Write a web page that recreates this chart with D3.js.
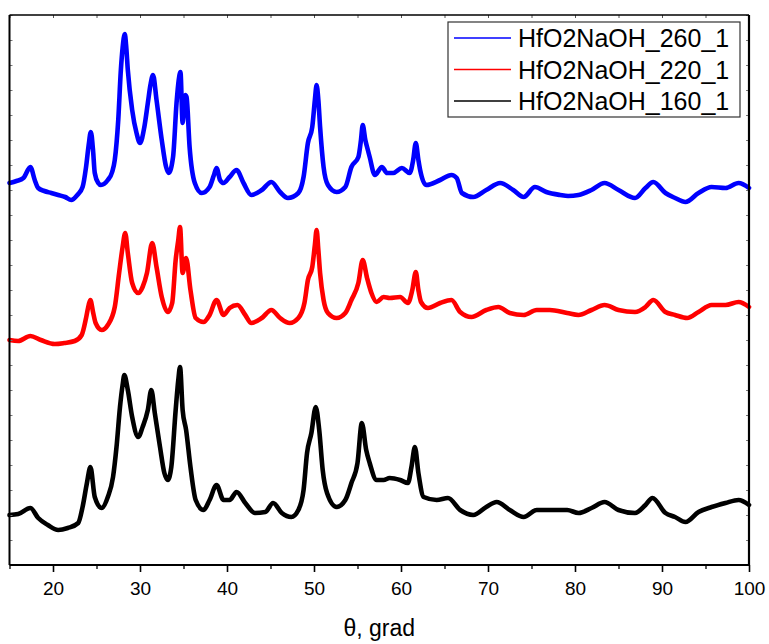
<!DOCTYPE html>
<html><head><meta charset="utf-8">
<script src="https://cdn.jsdelivr.net/npm/d3@7"></script>
<style>body{margin:0;background:#fff}svg{display:block}</style>
</head><body><svg id="c" width="769" height="644"></svg>
<script>
// ---- data (theta in degrees, intensity in arbitrary units) ----
const theta260 = [15.0,15.8,16.6,17.4,17.9,18.3,19.0,19.8,20.6,21.4,22.1,22.8,23.4,23.8,24.1,24.35,24.6,24.8,25.2,25.5,26.3,26.8,27.1,27.5,27.8,28.0,28.25,28.4,28.6,29.1,29.6,30.0,30.5,30.9,31.2,31.5,31.9,32.5,33.0,33.3,33.8,34.2,34.45,34.65,34.9,35.2,35.35,35.7,36.3,37.1,38.0,38.5,38.8,39.2,39.6,40.3,41.1,41.9,42.8,44.0,45.1,46.1,47.0,48.2,48.8,49.3,49.8,50.1,50.3,50.5,50.7,51.1,51.6,52.6,53.6,54.3,55.1,55.4,55.6,55.9,56.1,56.4,57.0,57.8,58.4,59.1,60.1,61.0,61.4,61.7,62.0,62.2,62.9,64.5,65.8,66.4,67.0,68.3,69.8,71.4,72.9,74.1,75.4,76.7,78.3,79.2,80.4,81.9,83.4,85.0,86.9,88.1,89.0,90.4,91.5,92.7,94.2,95.7,97.3,98.8,100.0];
const int260 = [382,384,387,398,385,377,374,372,370,368,365,370,378,398,420,433,415,392,382,380,385,393,405,445,495,517,531,520,495,455,432,422,438,462,480,490,465,425,398,392,408,462,485,493,442,470,468,418,382,372,378,390,397,385,382,388,395,382,370,375,383,373,367,372,388,422,438,465,480,465,438,398,380,373,378,398,408,425,440,425,418,408,390,398,392,392,397,392,405,422,405,395,380,385,390,387,372,368,375,382,375,368,378,373,370,369,370,375,382,375,367,377,383,372,367,363,372,378,377,382,377];

const theta220 = [15.0,16.0,17.4,18.6,20.2,21.3,22.5,23.3,23.8,24.1,24.3,24.6,24.9,25.6,26.3,27.1,27.6,28.0,28.3,28.6,29.1,29.8,30.3,30.8,31.4,31.9,32.5,33.2,33.7,34.1,34.4,34.6,34.9,35.3,35.8,36.4,37.3,38.0,38.8,39.6,40.3,41.2,42.1,42.8,44.0,45.1,46.1,47.2,48.2,48.9,49.3,49.8,50.1,50.3,50.5,50.7,51.1,51.6,52.6,53.6,54.3,55.1,55.6,56.1,56.6,57.2,58.0,58.7,59.9,60.8,61.3,61.7,62.0,62.3,63.1,64.5,65.8,66.8,68.1,69.8,71.2,72.5,74.1,75.6,77.1,79.1,80.4,81.9,83.4,85.0,86.9,88.1,89.0,90.4,91.5,92.9,94.2,95.7,97.3,98.8,100.0];
const int220 = [225,224,229,225,221,222,224,230,247,260,265,253,242,235,240,258,292,318,332,312,282,272,278,292,322,298,268,253,262,305,325,338,292,307,275,247,243,250,265,250,257,260,250,242,247,255,247,242,247,262,285,298,320,335,315,292,265,252,247,252,265,282,305,287,272,263,268,267,268,262,275,293,275,263,257,262,265,253,248,255,258,252,250,255,255,252,250,255,260,255,253,258,265,253,250,247,253,260,260,263,258];

const theta160 = [15.0,16.0,17.4,18.3,19.4,20.6,21.7,22.9,23.4,23.9,24.3,24.8,25.6,26.3,26.9,27.3,27.7,28.0,28.2,28.6,29.1,29.8,30.3,30.9,31.3,31.7,32.3,32.8,33.2,33.6,34.1,34.4,34.6,34.9,35.3,35.8,36.4,37.3,38.0,38.8,39.6,40.3,41.1,42.1,43.2,44.4,45.3,46.3,47.4,48.2,48.8,49.2,49.7,50.2,50.6,51.0,51.5,52.6,53.6,54.3,55.0,55.5,56.0,56.4,57.2,58.0,58.7,59.9,60.8,61.2,61.6,62.0,62.6,64.1,65.4,66.8,68.3,69.8,71.0,72.5,74.1,75.6,77.1,79.1,80.4,81.9,83.4,85.0,86.9,88.1,88.9,90.4,91.5,92.7,94.2,95.7,97.3,98.8,100.0];
const int160 = [50,51,57,47,40,35,37,42,58,82,98,68,57,68,88,118,158,180,190,175,148,128,138,155,175,152,118,92,85,98,155,185,198,155,135,98,65,55,65,80,65,65,73,62,52,53,62,52,48,55,75,112,132,158,135,95,72,58,65,82,102,142,115,102,85,85,87,85,82,98,118,92,68,65,67,55,50,58,63,55,48,55,55,55,52,57,63,55,52,60,67,52,48,43,53,58,62,65,60];

const seriesNames = ["HfO2NaOH_260_1","HfO2NaOH_220_1","HfO2NaOH_160_1"];
const seriesColors = ["#0000ff","#ff0000","#000000"];
const xMajorTicks = [20,30,40,50,60,70,80,90,100];
const xMinorTicks = [15,25,35,45,55,65,75,85,95];
const xLabel = "θ, grad";

// ---- layout ----
const svg = d3.select("#c");
const L = 9.5, R = 749, T = 15, B = 565;
const x = d3.scaleLinear().domain([15,100]).range([L,R]);
const y = d3.scaleLinear().domain([0,550]).range([B,T]);

const series = [
  {name: seriesNames[0], color: seriesColors[0], xs: theta260, ys: int260},
  {name: seriesNames[1], color: seriesColors[1], xs: theta220, ys: int220},
  {name: seriesNames[2], color: seriesColors[2], xs: theta160, ys: int160}
];

const line = d3.line().curve(d3.curveMonotoneX).x(d => x(d[0])).y(d => y(d[1]));
series.forEach(s => {
  const pts = s.xs.map((t,i) => [t, s.ys[i]]);
  svg.append("path").attr("d", line(pts)).attr("fill","none")
    .attr("stroke", s.color).attr("stroke-width", 4.6)
    .attr("stroke-linejoin","round").attr("stroke-linecap","round");
});

// ---- axes ----
const font = "'Liberation Sans', Arial, sans-serif";
const bottom = svg.append("g").attr("transform",`translate(0,${B})`)
  .call(d3.axisBottom(x).tickValues(xMajorTicks).tickSize(7).tickSizeOuter(0).tickPadding(10));
bottom.select(".domain").remove();
bottom.selectAll("line").attr("stroke","#000").attr("stroke-width",1.6);
bottom.selectAll("text").attr("font-family",font).attr("font-size",19).attr("fill","#000");
svg.append("g").attr("transform",`translate(0,${B})`)
  .call(d3.axisBottom(x).tickValues(xMinorTicks).tickSize(4).tickFormat(""))
  .call(g => { g.select(".domain").remove(); g.selectAll("line").attr("stroke","#000").attr("stroke-width",1.3); });

// top mirror ticks (inward)
svg.append("g").attr("transform",`translate(0,${T})`)
  .call(d3.axisBottom(x).tickValues(xMajorTicks.concat(xMinorTicks)).tickSize(3).tickFormat(""))
  .call(g => { g.select(".domain").remove(); g.selectAll("line").attr("stroke","#555").attr("stroke-width",1); });

// left/right inward ticks (no labels)
const yTicks = d3.range(0, 551, 25);
svg.append("g").attr("transform",`translate(${L},0)`)
  .call(d3.axisRight(y).tickValues(yTicks).tickSize(3).tickFormat(""))
  .call(g => { g.select(".domain").remove(); g.selectAll("line").attr("stroke","#777").attr("stroke-width",1); });
svg.append("g").attr("transform",`translate(${R},0)`)
  .call(d3.axisLeft(y).tickValues(yTicks).tickSize(3).tickFormat(""))
  .call(g => { g.select(".domain").remove(); g.selectAll("line").attr("stroke","#777").attr("stroke-width",1); });

// frame
svg.append("line").attr("x1",L).attr("x2",R).attr("y1",T).attr("y2",T).attr("stroke","#000").attr("stroke-width",1.5);
svg.append("line").attr("x1",L).attr("x2",R).attr("y1",B).attr("y2",B).attr("stroke","#000").attr("stroke-width",2);
svg.append("line").attr("x1",L).attr("x2",L).attr("y1",T).attr("y2",B).attr("stroke","#000").attr("stroke-width",2);
svg.append("line").attr("x1",R).attr("x2",R).attr("y1",T).attr("y2",B).attr("stroke","#000").attr("stroke-width",2.2);

svg.append("text").attr("x",(L+R)/2).attr("y",636).attr("text-anchor","middle")
  .attr("font-family",font).attr("font-size",23).attr("fill","#000").text(xLabel);

// ---- legend ----
const lg = svg.append("g");
lg.append("rect").attr("x",448).attr("y",22).attr("width",292).attr("height",95)
  .attr("fill","#fff").attr("stroke","#333").attr("stroke-width",1.2);
series.forEach((s,i) => {
  const yy = 38 + i*31.5;
  lg.append("line").attr("x1",454).attr("x2",511).attr("y1",yy).attr("y2",yy)
    .attr("stroke",s.color).attr("stroke-width",1.3);
  lg.append("text").attr("x",518).attr("y",yy).attr("dy","0.36em")
    .attr("font-family",font).attr("font-size",25).attr("fill","#000").text(s.name);
});
</script></body></html>
